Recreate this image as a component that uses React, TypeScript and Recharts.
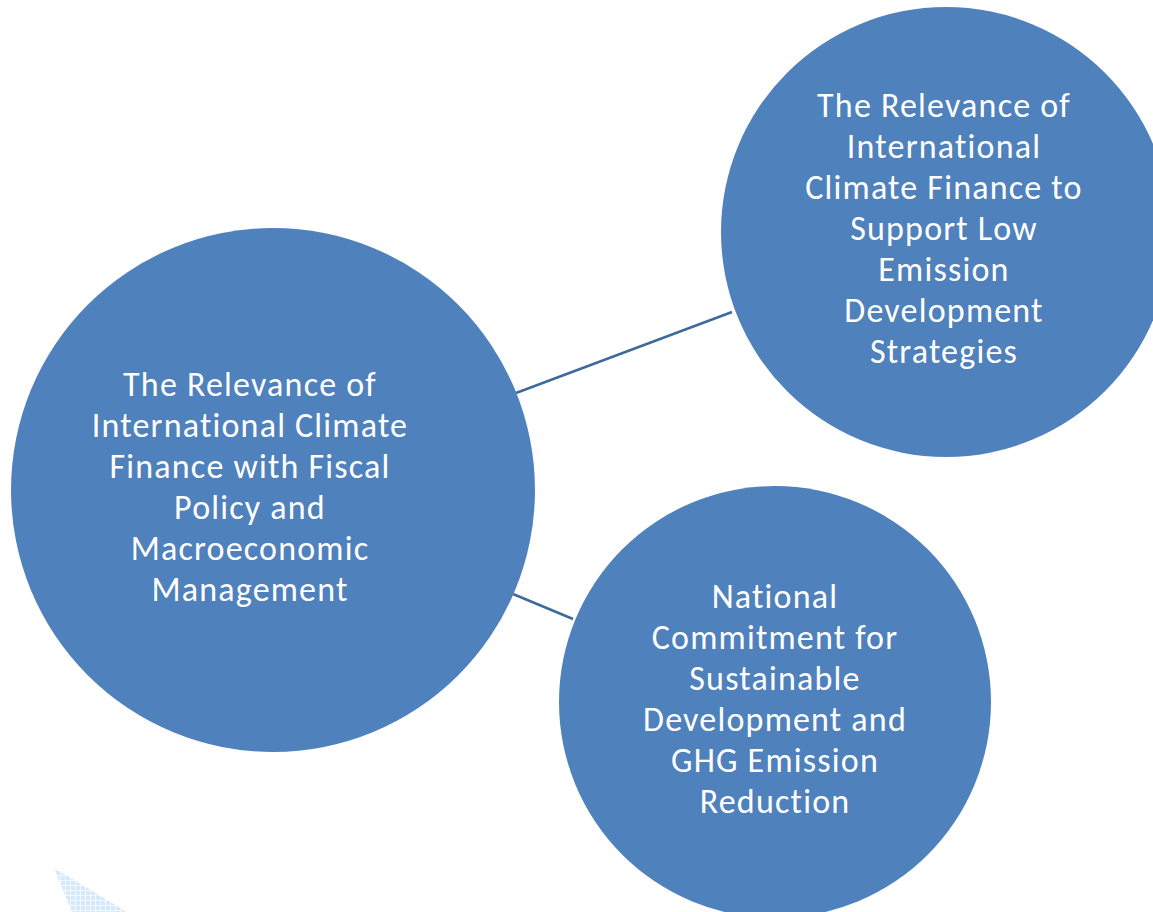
import React from "react";
import { ScatterChart, Scatter, XAxis, YAxis, ReferenceLine } from "recharts";

const W = 1153;
const H = 912;

// three topic bubbles
const nodeLabels = [
  ["The Relevance of", "International Climate", "Finance with Fiscal", "Policy and", "Macroeconomic", "Management"],
  ["The Relevance of", "International", "Climate Finance to", "Support Low", "Emission", "Development", "Strategies"],
  ["National", "Commitment for", "Sustainable", "Development and", "GHG Emission", "Reduction"],
];
const nodeX = [273, 946, 775];
const nodeY = [490, 232, 702];
const nodeR = [262, 225, 216];

// connectors between bubbles
const linkFromX = [516, 513];
const linkFromY = [393, 594];
const linkToX = [732, 573];
const linkToY = [312, 619];

// faint hatched shape peeking in at the bottom-left
const hatchX = [54, 127, 72];
const hatchY = [868, 912, 912];

const FILL = "#4F81BD";
const LINE = "#3F6A9E";
const FONT = "Carlito, Lato, 'Open Sans', sans-serif";
const FONT_SIZE = 34;
const LINE_H = 41;
const textShift = [-23, -2, 0];

const nodes = nodeX.map((x, i) => ({ x, y: nodeY[i], r: nodeR[i], lines: nodeLabels[i], idx: i }));
const hatch = [{ x: hatchX[0], y: hatchY[0] }];

const Bubble = (props: any) => {
  const { cx, cy, payload } = props;
  const lines: string[] = payload.lines;
  const tx = cx + textShift[payload.idx];
  const first = cy - ((lines.length - 1) / 2) * LINE_H + 8;
  return (
    <g>
      <circle cx={cx} cy={cy} r={payload.r} fill={FILL} />
      <text
        x={tx}
        y={first}
        textAnchor="middle"
        fill="#ffffff"
        fontFamily={FONT}
        fontSize={FONT_SIZE}
        letterSpacing={1.2}
      >
        {lines.map((l, k) => (
          <tspan key={k} x={tx} y={first + k * LINE_H}>
            {l}
          </tspan>
        ))}
      </text>
    </g>
  );
};

const Hatch = (props: any) => {
  const { cx, cy, payload } = props;
  const pts = hatchX
    .map((vx, k) => `${cx + (vx - payload.x)},${cy + (hatchY[k] - payload.y)}`)
    .join(" ");
  return (
    <g>
      <defs>
        <pattern id="grid" width="5" height="5" patternUnits="userSpaceOnUse">
          <rect width="5" height="5" fill="#d6e8fc" />
          <path d="M0 0.5H5M0.5 0V5" stroke="#f4f9ff" strokeWidth="1" />
        </pattern>
      </defs>
      <polygon points={pts} fill="url(#grid)" />
    </g>
  );
};

export default function App() {
  return (
    <div style={{ position: "absolute", left: 0, top: 0, background: "#fff" }}>
      <ScatterChart width={W} height={H} margin={{ top: 0, right: 0, bottom: 0, left: 0 }}>
        <XAxis type="number" dataKey="x" domain={[0, W]} hide allowDataOverflow />
        <YAxis type="number" dataKey="y" domain={[0, H]} reversed hide allowDataOverflow />
        <Scatter data={hatch} shape={<Hatch />} isAnimationActive={false} />
        {linkFromX.map((x, i) => (
          <ReferenceLine
            key={i}
            segment={[
              { x, y: linkFromY[i] },
              { x: linkToX[i], y: linkToY[i] },
            ]}
            stroke={LINE}
            strokeWidth={2.5}
            ifOverflow="visible"
          />
        ))}
        <Scatter data={nodes} shape={<Bubble />} isAnimationActive={false} />
      </ScatterChart>
    </div>
  );
}
